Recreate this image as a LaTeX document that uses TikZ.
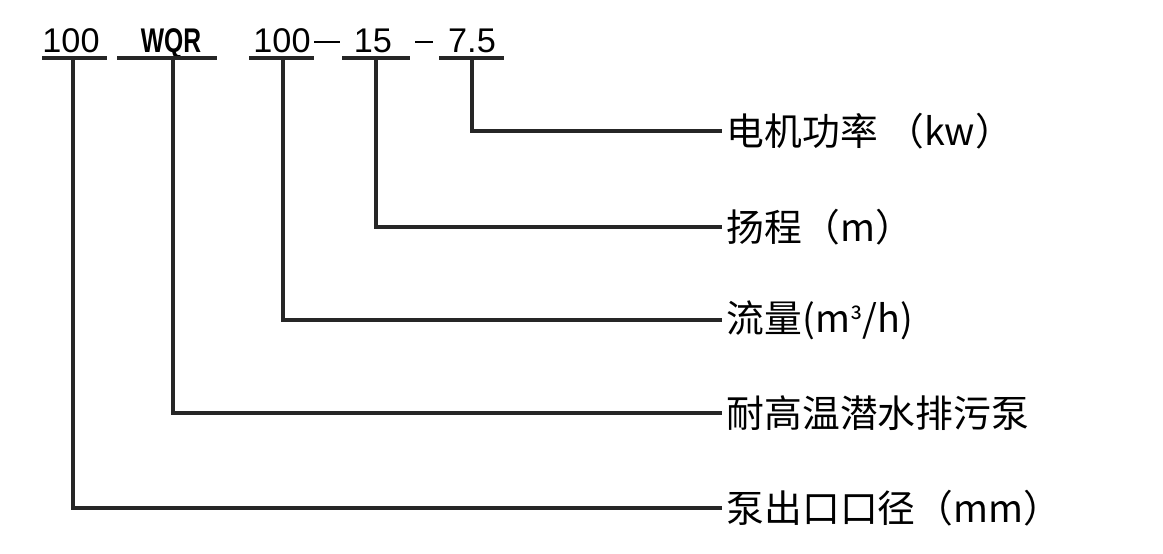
\documentclass[tikz,border=0pt]{standalone}
\usepackage{fontspec}
\setmainfont{Liberation Sans}
\newfontfamily\cjk{Noto Sans CJK SC}
\usetikzlibrary{positioning}

\begin{document}
\begin{tikzpicture}
[x=0.02cm,y=-0.02cm,
code/.style={anchor=base,inner sep=0pt,font=\fontsize{19.5}{19.5}\selectfont},
lbl/.style={anchor=west,inner ysep=0pt,inner xsep=2.5pt,font=\cjk\fontsize{21.5}{21.5}\selectfont},
rule/.style={line width=1.9pt,black!85}]
\useasboundingbox (0,0) rectangle (1163,554);

% model code
\node[code] (c1) at (71,53) {100};
\node[code] (c2) at (171,53) {\bfseries\addfontfeature{FakeStretch=0.72}WQR};
\node[code] (c3) at (282,53) {100};
\node[code] (c4) at (373,53) {15};
\node[code] (c5) at (472,53) {7.5};

\coordinate (u1a) at (42,58);
\coordinate (u1b) at (107,58);
\coordinate (u2a) at (117,58);
\coordinate (u2b) at (217,58);
\coordinate (u3a) at (249,58);
\coordinate (u3b) at (314,58);
\coordinate (u4a) at (342,58);
\coordinate (u4b) at (410,58);
\coordinate (u5a) at (439,58);
\coordinate (u5b) at (504,58);

\draw [rule] (u1a) -- (u1b);
\draw [rule] (u2a) -- (u2b);
\draw [rule] (u3a) -- (u3b);
\draw [rule] (u4a) -- (u4b);
\draw [rule] (u5a) -- (u5b);

\coordinate (d1a) at (314,42);
\coordinate (d1b) at (340,42);
\coordinate (d2a) at (415,42);
\coordinate (d2b) at (433,42);
\draw [line width=1.3pt] (d1a) -- (d1b);
\draw [line width=1.3pt] (d2a) -- (d2b);

% meanings
\node[lbl] (l5) at (722,131) {电机功率 （kw）};
\node[lbl] (l4) at (722,227) {扬程（m）};
\node[lbl] (l3) at (722,320) {流量(m{\fontsize{17}{17}\selectfont ³}/h)};
\node[lbl] (l2) at (722,413) {耐高温潜水排污泵};
\node[lbl] (l1) at (722,508) {泵出口口径（mm）};

\coordinate (t1) at (73,58);
\coordinate (t2) at (173,58);
\coordinate (t3) at (283,58);
\coordinate (t4) at (376,58);
\coordinate (t5) at (472,58);

\draw [rule] (t1) |- (l1.west);
\draw [rule] (t2) |- (l2.west);
\draw [rule] (t3) |- (l3.west);
\draw [rule] (t4) |- (l4.west);
\draw [rule] (t5) |- (l5.west);
\end{tikzpicture}
\end{document}
